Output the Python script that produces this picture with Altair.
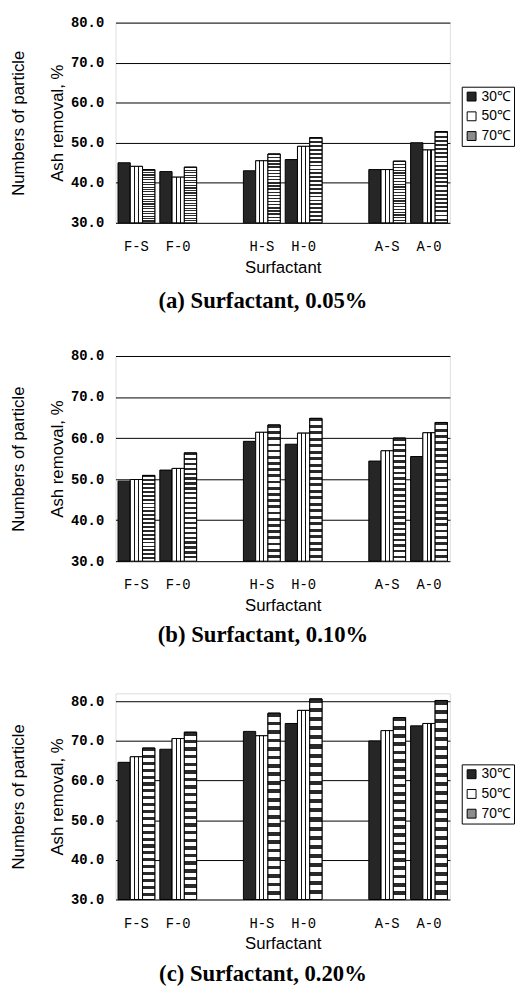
import altair as alt
import pandas as pd

# ---- data ----
surfactants = ["F-S", "F-0", "H-S", "H-0", "A-S", "A-0"]
slots = ["F-S", "F-0", " ", "H-S", "H-0", "  ", "A-S", "A-0"]
temps = ["30℃", "50℃", "70℃"]

a_30 = [45.0, 42.8, 43.0, 45.8, 43.3, 50.0]
a_50 = [44.1, 41.4, 45.5, 49.1, 43.3, 48.2]
a_70 = [43.3, 43.9, 47.2, 51.3, 45.4, 52.8]

b_30 = [49.5, 52.2, 59.2, 58.5, 54.4, 55.5]
b_50 = [49.9, 52.6, 61.4, 61.2, 56.9, 61.3]
b_70 = [50.9, 56.4, 63.2, 64.8, 60.0, 63.8]

c_30 = [64.6, 67.9, 72.4, 74.4, 70.0, 73.8]
c_50 = [66.0, 70.6, 71.3, 77.7, 72.6, 74.4]
c_70 = [68.2, 72.2, 77.0, 80.6, 75.9, 80.2]

captions = ["(a) Surfactant, 0.05%", "(b) Surfactant, 0.10%", "(c) Surfactant, 0.20%"]
y_ticks = [30, 40, 50, 60, 70, 80]


def long_df(s30, s50, s70):
    rows = []
    for t, series in zip(temps, [s30, s50, s70]):
        for cat, v in zip(surfactants, series):
            rows.append({"cat": cat, "temp": t, "value": v})
    return pd.DataFrame(rows)


def stripes(positions, width, dark="#111111", light="#ffffff", vertical=False):
    stops = [alt.GradientStop(color=light, offset=0)]
    for p in positions:
        e = min(p + width, 1)
        stops += [
            alt.GradientStop(color=light, offset=p),
            alt.GradientStop(color=dark, offset=p),
            alt.GradientStop(color=dark, offset=e),
            alt.GradientStop(color=light, offset=e),
        ]
    stops.append(alt.GradientStop(color=light, offset=1))
    if vertical:
        return alt.LinearGradient(gradient="linear", stops=stops, x1=0, x2=0, y1=0, y2=1)
    return alt.LinearGradient(gradient="linear", stops=stops, x1=0, x2=1, y1=0, y2=0)


fill_50 = stripes([0.30, 0.62], 0.09)
n70 = 22
fill_70 = stripes([i / n70 for i in range(n70)], 0.45 / n70, dark="#2a2a2a", vertical=True)


def panel(df, caption, ymax, height, cap_offset, leg_y):
    x = alt.X(
        "cat:N",
        scale=alt.Scale(domain=slots, paddingInner=0.12, paddingOuter=0.06),
        axis=alt.Axis(
            title="Surfactant",
            labelAngle=0,
            ticks=False,
            domain=False,
            labelFont="Liberation Mono",
            labelFontSize=14,
            labelColor="black",
            labelPadding=17,
            titleFont="Liberation Sans",
            titleFontSize=17,
            titleFontWeight="normal",
            titleColor="black",
            titlePadding=6,
        ),
    )
    xo = alt.XOffset("temp:N", scale=alt.Scale(domain=temps, paddingInner=0, paddingOuter=0))
    y = alt.Y(
        "value:Q",
        scale=alt.Scale(domain=[30, ymax], zero=False, nice=False),
        axis=alt.Axis(
            title=["Numbers of particle", "Ash removal, %"],
            values=y_ticks,
            format=".1f",
            ticks=False,
            domain=False,
            grid=True,
            gridColor="black",
            gridOpacity=1,
            gridWidth=1,
            labelFont="Liberation Mono",
            labelFontWeight="bold",
            labelFontSize=14,
            labelColor="black",
            labelPadding=12,
            titleFont="Liberation Sans",
            titleFontSize=17,
            titleFontWeight="normal",
            titleColor="black",
            titleLineHeight=40,
            titlePadding=4,
        ),
    )
    base = alt.Chart(df).mark_bar(stroke="black", strokeWidth=1).encode(
        x=x,
        xOffset=xo,
        y=y,
        y2=alt.datum(30),
        fill=alt.Fill(
            "temp:N",
            scale=alt.Scale(domain=temps, range=["#262626", "#ffffff", "#8c8c8c"]),
            legend=alt.Legend(
                title=None,
                orient="none",
                legendX=351,
                legendY=leg_y,
                symbolType="square",
                symbolSize=81,
                symbolStrokeColor="black",
                symbolStrokeWidth=1,
                symbolOpacity=1,
                labelFont="Liberation Sans",
                labelFontSize=14,
                labelColor="black",
                labelOffset=3,
                rowPadding=6,
                padding=3,
                strokeColor="black",
                fillColor="white",
                cornerRadius=0,
            ),
        ),
    )
    over50 = alt.Chart(df).transform_filter(alt.datum.temp == temps[1]).mark_bar(
        stroke="black", strokeWidth=1, fill=fill_50
    ).encode(x=x, xOffset=xo, y=y, y2=alt.datum(30))
    over70 = alt.Chart(df).transform_filter(alt.datum.temp == temps[2]).mark_bar(
        stroke="black", strokeWidth=1, fill=fill_70
    ).encode(x=x, xOffset=xo, y=y, y2=alt.datum(30))
    return alt.layer(base, over50, over70).properties(
        width=339,
        height=height,
        title=alt.TitleParams(
            caption,
            orient="bottom",
            anchor="middle",
            frame="group",
            dx=-20,
            font="Liberation Serif",
            fontSize=23,
            fontWeight="bold",
            color="black",
            offset=cap_offset,
        ),
    )


pa = panel(long_df(a_30, a_50, a_70), captions[0], 80, 203, 15, 65)
pb = panel(long_df(b_30, b_50, b_70), captions[1], 80, 208, 11, 72)
pc = panel(long_df(c_30, c_50, c_70), captions[2], 82, 209, 12, 72)

chart = alt.vconcat(
    alt.vconcat(pa, pb, spacing=35),
    pc,
    spacing=45,
).resolve_scale(fill="independent").properties(
    padding={"left": 0, "top": 0, "right": 0, "bottom": 0}
).configure_view(stroke="black", strokeWidth=1, fill="white").configure(background="white")

chart.save("out.html", embed_options={"renderer": "svg", "actions": False})
